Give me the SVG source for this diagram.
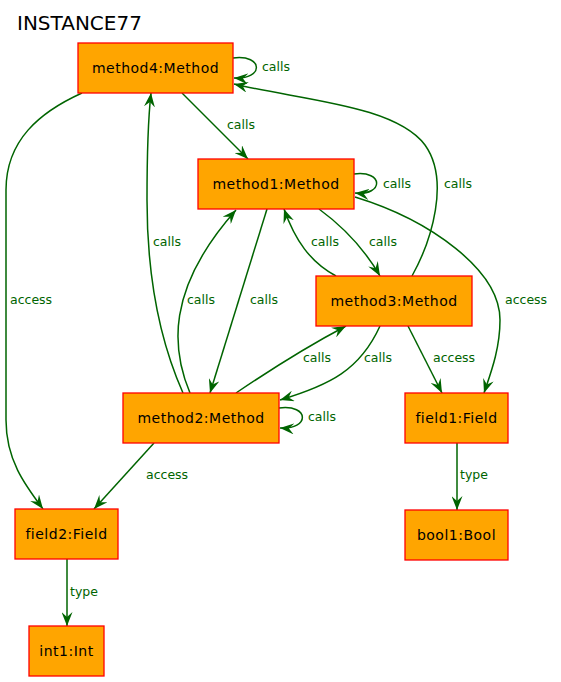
<svg xmlns="http://www.w3.org/2000/svg" width="561" height="682" viewBox="0 0 561 682">
<style>
.node rect{fill:#FFA500;stroke:#FF0000;stroke-width:1.3}
.node text{font-family:"DejaVu Sans",sans-serif;font-size:14px;letter-spacing:0.5px;fill:#000;text-anchor:middle}
.edges path{fill:none;stroke:#006400;stroke-width:1.5;marker-end:url(#vee)}
.lbl{font-family:"DejaVu Sans",sans-serif;font-size:12.5px;fill:#006400}
.title{font-family:"DejaVu Sans",sans-serif;font-size:20px;fill:#000}
</style>
<defs>
<marker id="vee" viewBox="0 0 14 11" refX="14" refY="5.5" markerWidth="14" markerHeight="11" markerUnits="userSpaceOnUse" orient="auto">
<path d="M0,0 L14,5.5 L0,11 L5,5.5 Z" fill="#006400"/>
</marker>
</defs>
<rect width="561" height="682" fill="#fff"/>
<text class="title" x="17" y="30">INSTANCE77</text>
<g class="edges">
<path d="M233,58 C264,54 264,80 234,78"/>
<path d="M182,93 L248,159"/>
<path d="M82,93 C40,112 6,140 6,190 L6,420 C6,460 25,485 43,509"/>
<path d="M354,174 C384,170 384,196 355,193"/>
<path d="M319,209 C345,228 365,250 380,276"/>
<path d="M336,276 C310,262 295,240 284,209"/>
<path d="M267,209 L210,393"/>
<path d="M190,393 C172,350 165,290 236,210"/>
<path d="M183,393 C155,330 147,260 147,200 C147,150 148,120 151,93"/>
<path d="M412,276 C432,240 450,180 425,145 C395,105 300,100 234,84"/>
<path d="M355,197 C430,220 500,270 500,320 C500,350 490,375 484,393"/>
<path d="M236,393 C270,370 310,345 346,326"/>
<path d="M380,326 C360,370 330,385 280,400"/>
<path d="M408,326 L442,393"/>
<path d="M279,408 C310,404 310,430 280,428"/>
<path d="M154,443 L94,509"/>
<path d="M457,443 L457,510"/>
<path d="M67,559 L67,626"/>
<text class="lbl" x="262" y="71">calls</text>
<text class="lbl" x="227" y="129">calls</text>
<text class="lbl" x="10" y="304">access</text>
<text class="lbl" x="383" y="188">calls</text>
<text class="lbl" x="369" y="246">calls</text>
<text class="lbl" x="311" y="246">calls</text>
<text class="lbl" x="250" y="304">calls</text>
<text class="lbl" x="187" y="304">calls</text>
<text class="lbl" x="153" y="246">calls</text>
<text class="lbl" x="444" y="188">calls</text>
<text class="lbl" x="505" y="304">access</text>
<text class="lbl" x="303" y="362">calls</text>
<text class="lbl" x="364" y="362">calls</text>
<text class="lbl" x="433" y="362">access</text>
<text class="lbl" x="308" y="421">calls</text>
<text class="lbl" x="146" y="479">access</text>
<text class="lbl" x="460" y="479">type</text>
<text class="lbl" x="70" y="596">type</text>
</g>
<g id="method4" class="node"><rect x="78" y="43" width="155" height="50"/><text x="155.5" y="73">method4:Method</text></g>
<g id="method1" class="node"><rect x="198" y="159" width="156" height="50"/><text x="276" y="189">method1:Method</text></g>
<g id="method3" class="node"><rect x="316" y="276" width="156" height="50"/><text x="394" y="306">method3:Method</text></g>
<g id="method2" class="node"><rect x="123" y="393" width="156" height="50"/><text x="201" y="423">method2:Method</text></g>
<g id="field1" class="node"><rect x="405" y="393" width="103" height="50"/><text x="456.5" y="423">field1:Field</text></g>
<g id="field2" class="node"><rect x="15" y="509" width="103" height="50"/><text x="66.5" y="539">field2:Field</text></g>
<g id="bool1" class="node"><rect x="405" y="510" width="103" height="50"/><text x="456.5" y="540">bool1:Bool</text></g>
<g id="int1" class="node"><rect x="29" y="626" width="75" height="50"/><text x="66.5" y="656">int1:Int</text></g>
</svg>
